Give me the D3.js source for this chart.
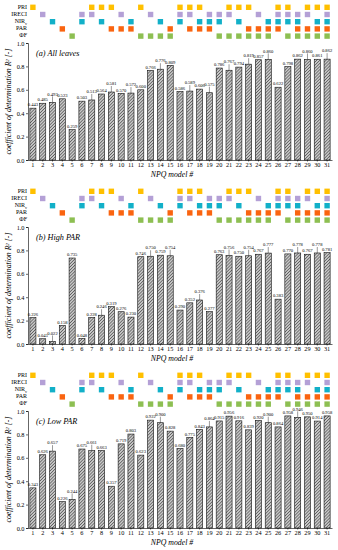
<!DOCTYPE html>
<html>
<head>
<meta charset="utf-8">
<script src="https://cdn.jsdelivr.net/npm/d3@7"></script>
<style>
  body { margin: 0; background: #fff; }
  text { font-family: "Liberation Serif", "Times New Roman", serif; fill: #000; }
</style>
</head>
<body>
<script>
// model numbers and variables in each model
const models = d3.range(1, 32);
const varNames = ["PRI", "IRECI", "NIR", "PAR", "ΦF"];
const priModels   = [1, 7, 8, 9, 12, 16, 17, 18, 21, 22, 23, 26, 27, 29, 30, 31];
const ireciModels = [2, 6, 7, 10, 13, 16, 17, 19, 20, 21, 24, 26, 27, 28, 29, 31];
const nirModels   = [3, 6, 8, 11, 14, 16, 18, 19, 20, 22, 25, 26, 27, 28, 30, 31];
const parModels   = [4, 9, 10, 11, 15, 17, 18, 19, 23, 24, 25, 26, 28, 29, 30, 31];
const phiModels   = [5, 12, 13, 14, 15, 20, 21, 22, 23, 24, 25, 27, 28, 29, 30, 31];

// R2 values per panel
const allLeaves = [0.443, 0.485, 0.493, 0.523, 0.259, 0.503, 0.513, 0.564, 0.581, 0.570,
                   0.572, 0.600, 0.766, 0.776, 0.809, 0.586, 0.589, 0.606, 0.575, 0.786,
                   0.767, 0.794, 0.819, 0.857, 0.860, 0.622, 0.798, 0.862, 0.860, 0.861, 0.862];
const highPar   = [0.226, 0.045, 0.022, 0.158, 0.735, 0.048, 0.228, 0.246, 0.319, 0.276,
                   0.230, 0.746, 0.750, 0.759, 0.754, 0.290, 0.352, 0.376, 0.277, 0.763,
                   0.756, 0.750, 0.754, 0.767, 0.777, 0.383, 0.770, 0.778, 0.767, 0.778, 0.781];
const lowPar    = [0.343, 0.626, 0.657, 0.226, 0.244, 0.675, 0.661, 0.663, 0.357, 0.719,
                   0.803, 0.623, 0.922, 0.900, 0.828, 0.680, 0.775, 0.843, 0.864, 0.915,
                   0.956, 0.916, 0.839, 0.920, 0.900, 0.864, 0.958, 0.946, 0.950, 0.914, 0.958];
const panelTitles = ["(a) All leaves", "(b) High PAR", "(c) Low PAR"];
const yTicks = [0, 0.2, 0.4, 0.6, 0.8, 1.0];

const membership = [priModels, ireciModels, nirModels, parModels, phiModels];
const varColors = ["#ffc000", "#b4a0d6", "#12b0c8", "#fa6410", "#8dbf52"];
const panelData = [allLeaves, highPar, lowPar];

const svg = d3.select("body").append("svg")
    .attr("width", 338)
    .attr("height", 550);

// hatch for the bars
let pat = svg.append("defs").append("pattern")
    .attr("id", "hatch")
    .attr("patternUnits", "userSpaceOnUse")
    .attr("width", 2.2).attr("height", 2.2)
    .attr("patternTransform", "rotate(45)");
pat.append("rect").attr("width", 2.2).attr("height", 2.2).attr("fill", "#c8c8c8");
pat.append("line").attr("x1", 0).attr("y1", 0).attr("x2", 0).attr("y2", 2.2)
    .attr("stroke", "#2a2a2a").attr("stroke-width", 1);

const x = d3.scaleBand()
    .domain(models)
    .range([28, 332])
    .paddingInner(0.38)
    .paddingOuter(0.19);

panelData.forEach(function(values, p) {
    let top = p * 184;
    let g = svg.append("g").attr("transform", "translate(0," + top + ")");

    // variable matrix
    varNames.forEach(function(name, k) {
        let cy = 7.3 + k * 7.2;
        let lab = g.append("text")
            .attr("x", 27).attr("y", cy)
            .attr("text-anchor", "end")
            .attr("dominant-baseline", "middle")
            .style("font-size", "6px");
        if (name == "NIR") {
            lab.text("NIR");
            lab.append("tspan").attr("baseline-shift", "sub").style("font-size", "4px").text("v");
        } else {
            lab.text(name);
        }
        g.selectAll(".sq" + k)
            .data(membership[k])
            .enter()
            .append("rect")
            .attr("x", d => x(d) + x.bandwidth() / 2 - 2.7)
            .attr("y", cy - 2.7)
            .attr("width", 5.4)
            .attr("height", 5.4)
            .attr("fill", varColors[k]);
    });

    let y = d3.scaleLinear().domain([0, 1]).range([160, 43]);

    // bars
    g.selectAll(".bar")
        .data(values)
        .enter()
        .append("rect")
        .attr("x", (d, i) => x(models[i]))
        .attr("y", d => y(d))
        .attr("width", x.bandwidth())
        .attr("height", d => y(0) - y(d))
        .attr("fill", "url(#hatch)")
        .attr("stroke", "#111")
        .attr("stroke-width", 0.6);

    // value labels, staggered where neighbours collide
    let raised = [];
    values.forEach(function(v, i) {
        raised[i] = i > 0 && !raised[i - 1] && Math.abs(y(v) - y(values[i - 1])) < 4;
        let cx = x(models[i]) + x.bandwidth() / 2;
        let ly = y(v) - 1.8 - (raised[i] ? 5 : 0);
        if (raised[i]) {
            g.append("line")
                .attr("x1", cx).attr("x2", cx)
                .attr("y1", ly + 0.8).attr("y2", y(v))
                .attr("stroke", "#000").attr("stroke-width", 0.4);
        }
        g.append("text")
            .attr("x", cx).attr("y", ly)
            .attr("text-anchor", "middle")
            .style("font-size", "4.6px")
            .text(d3.format(".3f")(v));
    });

    // axes
    let yAxis = g.append("g")
        .attr("transform", "translate(28,0)")
        .call(d3.axisLeft(y).tickValues(yTicks).tickFormat(d3.format(".1f")).tickSize(2).tickPadding(1.5));
    yAxis.selectAll("text").style("font-size", "6.3px");
    yAxis.selectAll("path, line").attr("stroke", "#000").attr("stroke-width", 0.6);

    let xAxis = g.append("g")
        .attr("transform", "translate(0," + y(0) + ")")
        .call(d3.axisBottom(x).tickSize(1.5).tickPadding(1.5).tickSizeOuter(0));
    xAxis.selectAll("text").style("font-size", "6.3px");
    xAxis.selectAll("path, line").attr("stroke", "#000").attr("stroke-width", 0.6);

    g.append("text")
        .attr("x", 172).attr("y", 177)
        .attr("text-anchor", "middle")
        .style("font-size", "7.8px")
        .style("font-style", "italic")
        .text("NPQ model #");

    // y label
    let yl = g.append("text")
        .attr("transform", "translate(11," + (y(0.5) + 0) + ") rotate(-90)")
        .attr("text-anchor", "middle")
        .style("font-size", "7.8px")
        .style("font-style", "italic")
        .text("coefficient of determination R");
    yl.append("tspan").attr("baseline-shift", "super").style("font-size", "5px").text("2");
    yl.append("tspan").text(" [-]");

    g.append("text")
        .attr("x", 36).attr("y", 56)
        .style("font-size", "8.2px")
        .style("font-style", "italic")
        .text(panelTitles[p]);
});
</script>
</body>
</html>
